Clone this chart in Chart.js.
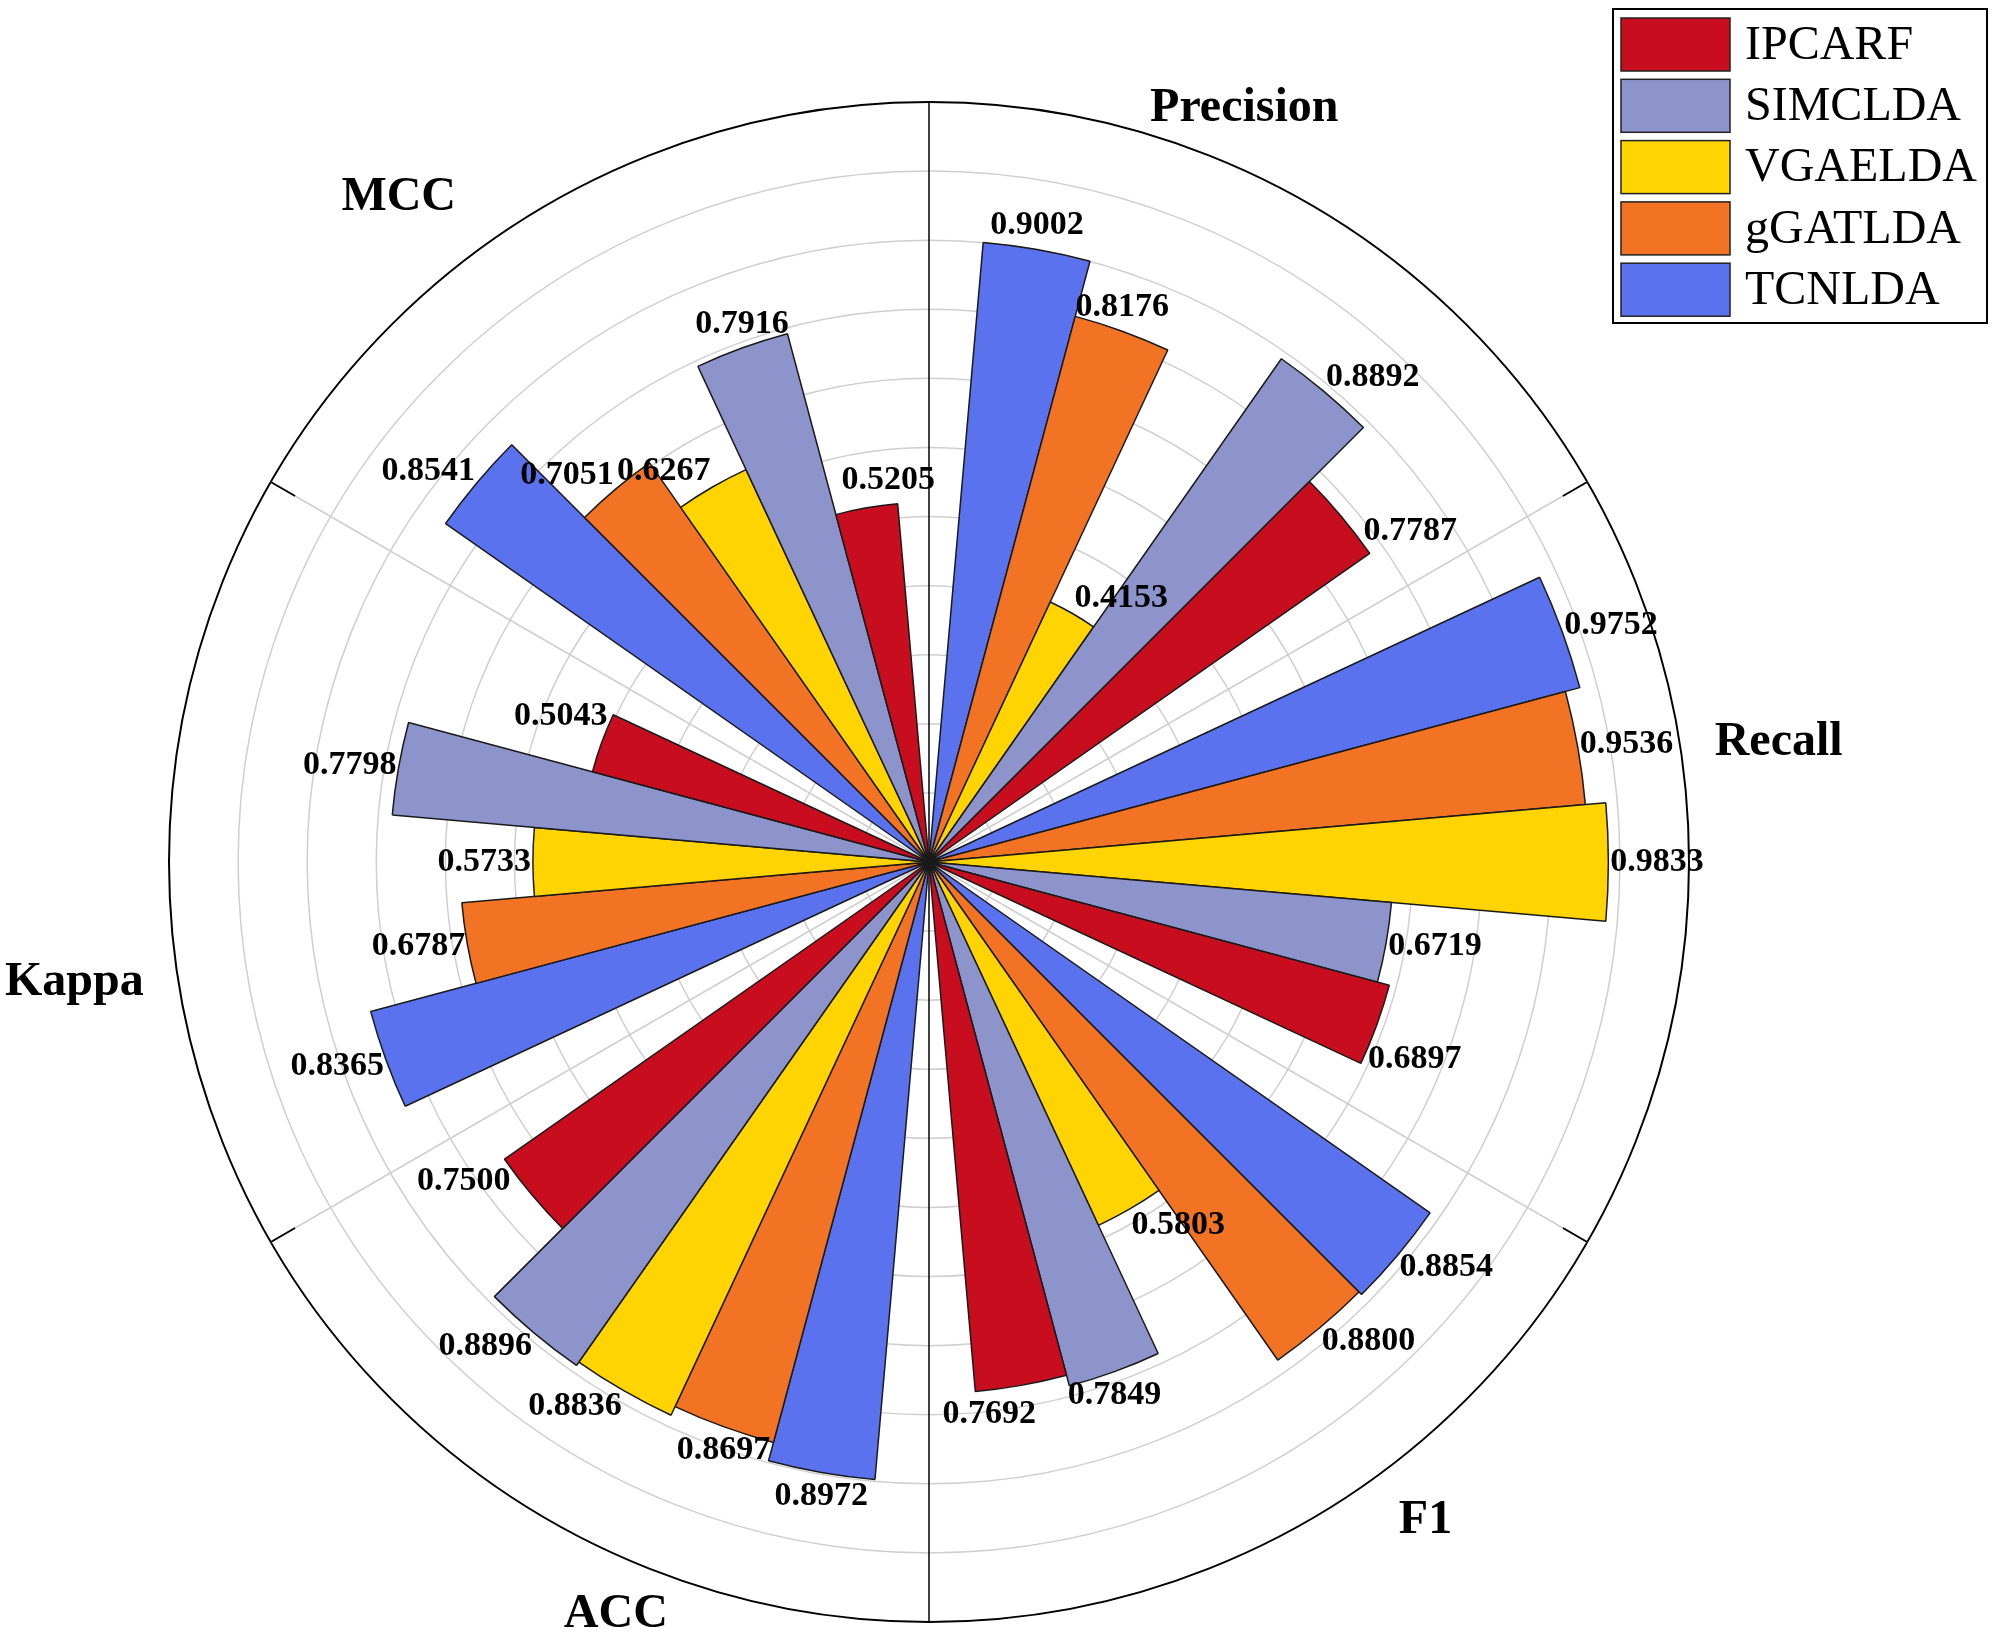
<!DOCTYPE html>
<html lang="en">
<head>
<meta charset="UTF-8">
<title>Method comparison - polar bars</title>
<script src="https://cdn.jsdelivr.net/npm/chart.js"></script>
<style>
    html, body {
        margin: 0;
        padding: 0;
        background: #fff;
    }

    .wrap {
        position: relative;
        width: 2000px;
        height: 1645px;
    }
</style>
</head>
<body>
<div class="wrap"><canvas id="polarChart"></canvas></div>

<script>
// metric groups, clockwise starting at the top
const metrics = ['Precision', 'Recall', 'F1', 'ACC', 'Kappa', 'MCC'];
// legend order
const methods = ['IPCARF', 'SIMCLDA', 'VGAELDA', 'gGATLDA', 'TCNLDA'];

// scores, one entry per metric (same order as metrics)
const ipcarf  = [0.7787, 0.6897, 0.7692, 0.7500, 0.5043, 0.5205];
const simclda = [0.8892, 0.6719, 0.7849, 0.8896, 0.7798, 0.7916];
const vgaelda = [0.4153, 0.9833, 0.5803, 0.8836, 0.5733, 0.6267];
const ggatlda = [0.8176, 0.9536, 0.8800, 0.8697, 0.6787, 0.7051];
const tcnlda  = [0.9002, 0.9752, 0.8854, 0.8972, 0.8365, 0.8541];

const methodColors = ['#c80d1f', '#8d94cb', '#ffd400', '#f27323', '#5b72ef'];

const seriesValues = [ipcarf, simclda, vgaelda, ggatlda, tcnlda];
// inside each group the bars run TCNLDA ... IPCARF clockwise
const groupOrder = [4, 3, 2, 1, 0];

// where the group names sit: angle (deg, clockwise from top) and gap outside the ring
const nameAngles = [22.7, 82, 143, 202.6, 262, 321.4];
const nameGaps = [57, 98, 65, 55, 103, 90];

// one empty slot per group keeps the groups apart
const labels = [];
const values = [];
const fills = [];
const borderWidths = [];
const owner = [];
metrics.forEach((m, mi) => {
    labels.push('');
    values.push(0);
    fills.push('rgba(0,0,0,0)');
    borderWidths.push(0);
    owner.push(-1);
    groupOrder.forEach(si => {
        labels.push(m + ' / ' + methods[si]);
        values.push(seriesValues[si][mi]);
        fills.push(methodColors[si]);
        borderWidths.push(1.5);
        owner.push(si);
    });
});

const SERIF = '"Liberation Serif", "Times New Roman", serif';

// angle lines, value labels, group names and the legend box
const decor = {
    id: 'decor',
    beforeDatasetsDraw(chart) {
        const r = chart.scales.r;
        const ctx = chart.ctx;
        const R = r.drawingArea;
        ctx.save();
        for (let k = 0; k < metrics.length; k++) {
            const a = (k * 60) * Math.PI / 180;
            const sx = Math.sin(a), sy = -Math.cos(a);
            if (k % 3 === 0) {
                // vertical axis: solid black all the way
                ctx.strokeStyle = '#000';
                ctx.lineWidth = 1.5;
                ctx.beginPath();
                ctx.moveTo(r.xCenter, r.yCenter);
                ctx.lineTo(r.xCenter + sx * R, r.yCenter + sy * R);
                ctx.stroke();
            } else {
                ctx.strokeStyle = '#cfcfcf';
                ctx.lineWidth = 1.5;
                ctx.beginPath();
                ctx.moveTo(r.xCenter, r.yCenter);
                ctx.lineTo(r.xCenter + sx * R, r.yCenter + sy * R);
                ctx.stroke();
                // short black tick at the rim
                ctx.strokeStyle = '#000';
                ctx.lineWidth = 1.8;
                ctx.beginPath();
                ctx.moveTo(r.xCenter + sx * (R - 28), r.yCenter + sy * (R - 28));
                ctx.lineTo(r.xCenter + sx * R, r.yCenter + sy * R);
                ctx.stroke();
            }
        }
        ctx.restore();
    },
    afterDatasetsDraw(chart) {
        const r = chart.scales.r;
        const ctx = chart.ctx;
        const meta = chart.getDatasetMeta(0);
        ctx.save();

        // value at the end of each bar
        ctx.font = 'bold 34px ' + SERIF;
        ctx.fillStyle = '#000';
        ctx.textAlign = 'center';
        ctx.textBaseline = 'middle';
        meta.data.forEach((arc, i) => {
            if (owner[i] < 0) return;
            const p = arc.getProps(['x', 'y', 'startAngle', 'endAngle', 'outerRadius'], true);
            let mid = (p.startAngle + p.endAngle) / 2;
            // last bar of a group: label nudged toward the gap
            if (owner[i] === 0) mid += 3.5 * Math.PI / 180;
            const dx = Math.cos(mid);
            const dy = Math.sin(mid);
            const px = p.x + dx * p.outerRadius;
            const py = p.y + dy * p.outerRadius;
            const txt = values[i].toFixed(4);
            const w = ctx.measureText(txt).width;
            const h = 24;
            let cx, cy;
            if (Math.abs(dx) < 0.4) {
                cx = px;
                cy = py + Math.sign(dy) * (h / 2 + 12);
            } else {
                cx = px + Math.sign(dx) * (w / 2 + 2);
                cy = py + dy * (h / 2 + 6);
            }
            ctx.fillText(txt, cx, cy);
        });

        // group names outside the ring
        ctx.font = 'bold 48px ' + SERIF;
        metrics.forEach((m, k) => {
            const a = nameAngles[k] * Math.PI / 180;
            const rad = r.drawingArea + nameGaps[k];
            ctx.fillText(m, r.xCenter + Math.sin(a) * rad, r.yCenter - Math.cos(a) * rad);
        });

        // legend box, top right
        const lx = 1613, ly = 9, lw = 374, lh = 314;
        ctx.fillStyle = '#fff';
        ctx.fillRect(lx, ly, lw, lh);
        ctx.strokeStyle = '#000';
        ctx.lineWidth = 2;
        ctx.strokeRect(lx, ly, lw, lh);
        ctx.font = '48px ' + SERIF;
        ctx.textAlign = 'left';
        methods.forEach((name, i) => {
            const y = 18 + i * 61.3;
            ctx.fillStyle = methodColors[i];
            ctx.fillRect(1621, y, 109, 53);
            ctx.strokeStyle = '#222';
            ctx.lineWidth = 1.5;
            ctx.strokeRect(1621, y, 109, 53);
            ctx.fillStyle = '#000';
            ctx.fillText(name, 1745, y + 28);
        });
        ctx.restore();
    }
};

const ctx = document.getElementById('polarChart').getContext('2d');
const chart = new Chart(ctx, {
    type: 'polarArea',
    data: {
        labels: labels,
        datasets: [{
            data: values,
            backgroundColor: fills,
            borderColor: '#1a1a1a',
            borderWidth: borderWidths
        }]
    },
    options: {
        responsive: true,
        maintainAspectRatio: false,
        animation: false,
        layout: {
            padding: { left: 169, top: 102, right: 311, bottom: 23 }
        },
        scales: {
            r: {
                min: 0,
                max: 1.1,
                startAngle: -5,
                ticks: { display: false, stepSize: 0.1 },
                grid: {
                    circular: true,
                    color: c => (c.tick && c.tick.value > 1.05) ? '#000' : '#cfcfcf',
                    lineWidth: c => (c.tick && c.tick.value > 1.05) ? 2 : 1.5
                },
                angleLines: { display: false },
                pointLabels: { display: false }
            }
        },
        plugins: {
            legend: { display: false },
            tooltip: { enabled: false }
        }
    },
    plugins: [decor]
});
</script>
</body>
</html>
